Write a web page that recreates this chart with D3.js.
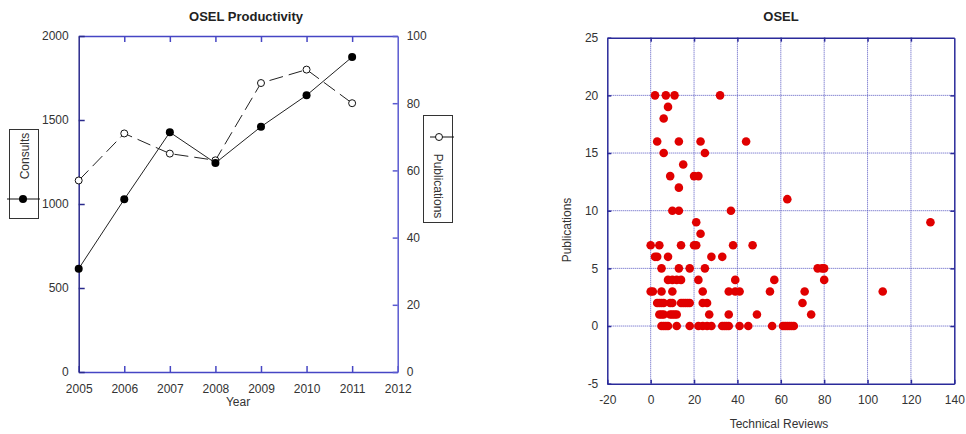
<!DOCTYPE html>
<html>
<head>
<meta charset="utf-8">
<script src="https://cdn.jsdelivr.net/npm/d3@7"></script>
<style>
  body { margin: 0; background: #fff; }
  svg { display: block; font-family: "Liberation Sans", Arial, sans-serif; }
  .tick text { fill: #333; font-size: 12px; }
</style>
</head>
<body>
<svg id="chart" width="966" height="434"></svg>
<script>
// left chart data
const years = [2005, 2006, 2007, 2008, 2009, 2010, 2011]
const consults = [615, 1028, 1427, 1244, 1460, 1647, 1875]
const publications = [57, 71, 65, 63, 86, 90, 80]

// right chart data (one entry per point)
const reviews = [
  2, 7, 11, 32,
  8,
  6,
  3, 13, 23, 44,
  6, 25,
  15,
  9, 20, 22,
  13,
  63,
  10, 13, 37,
  21, 129,
  23,
  0, 4, 14, 20, 21, 38, 47,
  2, 3, 8, 28, 33,
  5, 13, 18, 25, 77, 79, 80,
  8, 10, 12, 14, 22, 39, 57, 80,
  0, 1, 5, 10, 24, 36, 39, 41, 55, 71, 107,
  3, 4, 5, 6, 9, 10, 14, 15, 16, 17, 18, 24, 26, 70,
  4, 5, 6, 9, 10, 11, 12, 27, 36, 49, 74,
  5, 6, 7, 8, 12, 18, 22, 24, 26, 28, 33, 34, 35, 36, 41, 45, 56, 61, 62, 63, 64, 65, 66
]
const pubCounts = [
  20, 20, 20, 20,
  19,
  18,
  16, 16, 16, 16,
  15, 15,
  14,
  13, 13, 13,
  12,
  11,
  10, 10, 10,
  9, 9,
  8,
  7, 7, 7, 7, 7, 7, 7,
  6, 6, 6, 6, 6,
  5, 5, 5, 5, 5, 5, 5,
  4, 4, 4, 4, 4, 4, 4, 4,
  3, 3, 3, 3, 3, 3, 3, 3, 3, 3, 3,
  2, 2, 2, 2, 2, 2, 2, 2, 2, 2, 2, 2, 2, 2,
  1, 1, 1, 1, 1, 1, 1, 1, 1, 1, 1,
  0, 0, 0, 0, 0, 0, 0, 0, 0, 0, 0, 0, 0, 0, 0, 0, 0, 0, 0, 0, 0, 0, 0
]

const svg = d3.select('#chart')
const plain = d => String(d) // keeps "-20" and "2000" as plain text

// ---------- left: OSEL Productivity ----------
const L = {left: 78.7, right: 397.7, top: 36, bottom: 372}
const x = d3.scaleLinear().domain([2005, 2012]).range([L.left, L.right])
const yC = d3.scaleLinear().domain([0, 2000]).range([L.bottom, L.top])
const yP = d3.scaleLinear().domain([0, 100]).range([L.bottom, L.top])

const left = svg.append('g')

function styleAxis(g, color) {
  g.select('.domain').attr('stroke', color).attr('stroke-width', 1.5)
  g.selectAll('.tick line').attr('stroke', color).attr('stroke-width', 1.5)
}

const xBottom = left.append('g')
  .attr('transform', `translate(0,${L.bottom})`)
  .call(d3.axisBottom(x).tickValues(d3.range(2005, 2013)).tickFormat(plain).tickSizeInner(-6).tickSizeOuter(0).tickPadding(12))
styleAxis(xBottom, '#4646c4')

const xTop = left.append('g')
  .attr('transform', `translate(0,${L.top})`)
  .call(d3.axisTop(x).tickValues(d3.range(2006, 2012)).tickFormat('').tickSizeInner(-6).tickSizeOuter(0))
styleAxis(xTop, '#4646c4')

const yLeft = left.append('g')
  .attr('transform', `translate(${L.left},0)`)
  .call(d3.axisLeft(yC).tickValues(d3.range(0, 2001, 500)).tickFormat(plain).tickSizeInner(-6).tickSizeOuter(0).tickPadding(10))
styleAxis(yLeft, '#2a2a8c')

const yRight = left.append('g')
  .attr('transform', `translate(${L.right},0)`)
  .call(d3.axisRight(yP).tickValues(d3.range(0, 101, 20)).tickFormat(plain).tickSizeInner(-5).tickSizeOuter(0).tickPadding(9))
styleAxis(yRight, '#5a5ad0')

left.append('text')
  .attr('x', 246).attr('y', 21)
  .attr('text-anchor', 'middle')
  .attr('font-size', 13).attr('font-weight', 'bold').attr('fill', '#222')
  .text('OSEL Productivity')

left.append('text')
  .attr('x', 238).attr('y', 406)
  .attr('text-anchor', 'middle')
  .attr('font-size', 12).attr('fill', '#333')
  .text('Year')

// publications (dashed, open circles)
left.append('path')
  .datum(years.map((d, i) => [d, publications[i]]))
  .attr('fill', 'none').attr('stroke', '#222').attr('stroke-width', 1)
  .attr('stroke-dasharray', '14,6')
  .attr('d', d3.line().x(d => x(d[0])).y(d => yP(d[1])))

// consults (solid, filled circles)
left.append('path')
  .datum(years.map((d, i) => [d, consults[i]]))
  .attr('fill', 'none').attr('stroke', '#222').attr('stroke-width', 1)
  .attr('d', d3.line().x(d => x(d[0])).y(d => yC(d[1])))

left.selectAll('circle.pub')
  .data(years.map((d, i) => [d, publications[i]]))
  .join('circle')
  .attr('class', 'pub')
  .attr('cx', d => x(d[0])).attr('cy', d => yP(d[1]))
  .attr('r', 3.5)
  .attr('fill', '#fff').attr('stroke', '#111').attr('stroke-width', 1)

left.selectAll('circle.con')
  .data(years.map((d, i) => [d, consults[i]]))
  .join('circle')
  .attr('class', 'con')
  .attr('cx', d => x(d[0])).attr('cy', d => yC(d[1]))
  .attr('r', 4)
  .attr('fill', '#000')

// legend boxes
const lg1 = left.append('g')
lg1.append('rect').attr('x', 9.5).attr('y', 129.5).attr('width', 29).attr('height', 89)
  .attr('fill', '#fff').attr('stroke', '#333')
lg1.append('text')
  .attr('transform', 'translate(29,156) rotate(-90)')
  .attr('text-anchor', 'middle').attr('font-size', 12).attr('fill', '#333')
  .text('Consults')
lg1.append('line').attr('x1', 7).attr('x2', 40).attr('y1', 199).attr('y2', 199).attr('stroke', '#111')
lg1.append('circle').attr('cx', 23).attr('cy', 199).attr('r', 4).attr('fill', '#000')

const lg2 = left.append('g')
lg2.append('rect').attr('x', 423.5).attr('y', 115.5).attr('width', 29).attr('height', 107)
  .attr('fill', '#fff').attr('stroke', '#333')
lg2.append('text')
  .attr('transform', 'translate(434,186) rotate(90)')
  .attr('text-anchor', 'middle').attr('font-size', 12).attr('fill', '#333')
  .text('Publications')
lg2.append('line').attr('x1', 430).attr('x2', 454).attr('y1', 137).attr('y2', 137).attr('stroke', '#111')
lg2.append('circle').attr('cx', 439).attr('cy', 137).attr('r', 3.5)
  .attr('fill', '#fff').attr('stroke', '#111')

// ---------- right: OSEL scatter ----------
const R = {left: 607.3, right: 954.3, top: 37.7, bottom: 383.7}
const sx = d3.scaleLinear().domain([-20, 140]).range([R.left, R.right])
const sy = d3.scaleLinear().domain([-5, 25]).range([R.bottom, R.top])
const right = svg.append('g')

// grid
right.append('g').selectAll('line')
  .data(d3.range(0, 121, 20))
  .join('line')
  .attr('x1', d => sx(d)).attr('x2', d => sx(d))
  .attr('y1', R.top).attr('y2', R.bottom)
  .attr('stroke', '#5555c0').attr('stroke-width', 1).attr('stroke-dasharray', '1,1')
right.append('g').selectAll('line')
  .data(d3.range(0, 21, 5))
  .join('line')
  .attr('x1', R.left).attr('x2', R.right)
  .attr('y1', d => sy(d)).attr('y2', d => sy(d))
  .attr('stroke', '#5555c0').attr('stroke-width', 1).attr('stroke-dasharray', '1,1')

const sxAxis = right.append('g')
  .attr('transform', `translate(0,${R.bottom})`)
  .call(d3.axisBottom(sx).tickValues(d3.range(-20, 141, 20)).tickFormat(plain).tickSizeInner(-4).tickSizeOuter(0).tickPadding(12))
styleAxis(sxAxis, '#2a2a9a')
const syAxis = right.append('g')
  .attr('transform', `translate(${R.left},0)`)
  .call(d3.axisLeft(sy).tickValues(d3.range(-5, 26, 5)).tickFormat(plain).tickSizeInner(-4).tickSizeOuter(0).tickPadding(9))
styleAxis(syAxis, '#2a2a9a')
const sxTop = right.append('g')
  .attr('transform', `translate(0,${R.top})`)
  .call(d3.axisTop(sx).tickValues(d3.range(0, 121, 20)).tickFormat('').tickSizeInner(-4).tickSizeOuter(0))
styleAxis(sxTop, '#2a2a9a')
const syRight = right.append('g')
  .attr('transform', `translate(${R.right},0)`)
  .call(d3.axisRight(sy).tickValues(d3.range(0, 21, 5)).tickFormat('').tickSizeInner(-4).tickSizeOuter(0))
styleAxis(syRight, '#2a2a9a')

right.selectAll('circle.pt')
  .data(reviews.map((d, i) => [d, pubCounts[i]]))
  .join('circle')
  .attr('class', 'pt')
  .attr('cx', d => sx(d[0])).attr('cy', d => sy(d[1]))
  .attr('r', 4.3)
  .attr('fill', '#e00000')

right.append('text')
  .attr('x', 781).attr('y', 21)
  .attr('text-anchor', 'middle')
  .attr('font-size', 13).attr('font-weight', 'bold').attr('fill', '#222')
  .text('OSEL')

right.append('text')
  .attr('x', 779).attr('y', 428)
  .attr('text-anchor', 'middle')
  .attr('font-size', 12).attr('fill', '#333')
  .text('Technical Reviews')

right.append('text')
  .attr('transform', 'translate(571,230) rotate(-90)')
  .attr('text-anchor', 'middle')
  .attr('font-size', 12).attr('fill', '#333')
  .text('Publications')
</script>
</body>
</html>
